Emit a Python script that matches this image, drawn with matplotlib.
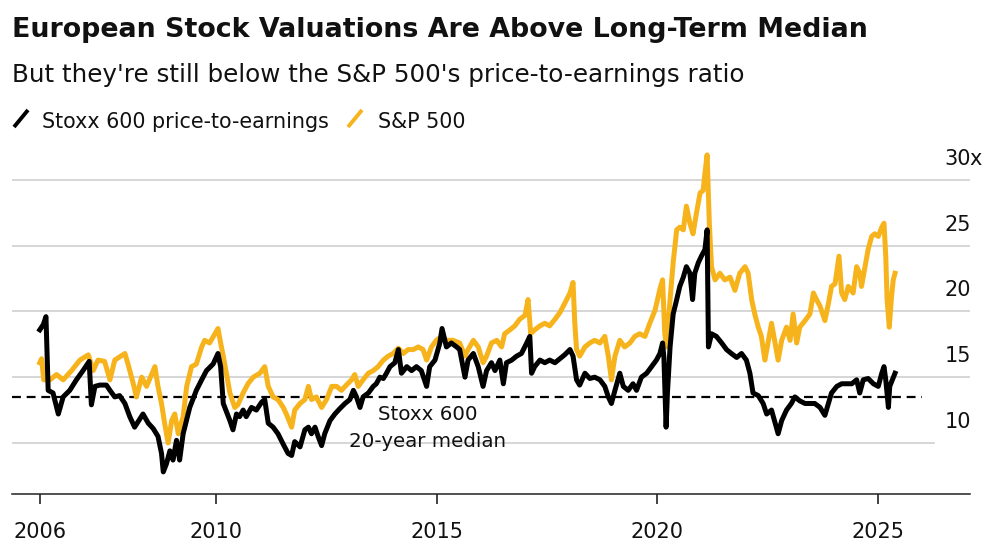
import matplotlib
matplotlib.use('Agg')
import matplotlib.pyplot as plt
from matplotlib.lines import Line2D
from matplotlib import transforms

# Stoxx 600 trailing P/E (decimal year, value)
stoxx_t = [2006.00, 2006.08, 2006.14, 2006.19, 2006.30, 2006.42, 2006.53, 2006.68, 2006.83, 2006.98,
           2007.12, 2007.17, 2007.25, 2007.36, 2007.51, 2007.59, 2007.70, 2007.81, 2007.93, 2008.04,
           2008.15, 2008.34, 2008.46, 2008.57, 2008.68, 2008.76, 2008.80, 2008.87, 2008.95, 2009.02,
           2009.10, 2009.17, 2009.25, 2009.40, 2009.55, 2009.67, 2009.78, 2009.93, 2010.04, 2010.10,
           2010.16, 2010.31, 2010.38, 2010.46, 2010.53, 2010.61, 2010.68, 2010.80, 2010.91, 2011.03,
           2011.10, 2011.18, 2011.29, 2011.40, 2011.52, 2011.63, 2011.71, 2011.78, 2011.90, 2012.01,
           2012.09, 2012.16, 2012.24, 2012.31, 2012.39, 2012.46, 2012.58, 2012.69, 2012.80, 2012.92,
           2013.03, 2013.11, 2013.18, 2013.26, 2013.33, 2013.45, 2013.56, 2013.63, 2013.71, 2013.79,
           2013.86, 2013.94, 2014.05, 2014.13, 2014.20, 2014.32, 2014.43, 2014.54, 2014.65, 2014.77,
           2014.84, 2014.96, 2015.07, 2015.12, 2015.22, 2015.33, 2015.45, 2015.52, 2015.64, 2015.71,
           2015.83, 2015.94, 2016.05, 2016.13, 2016.24, 2016.32, 2016.43, 2016.51, 2016.58, 2016.70,
           2016.81, 2016.92, 2017.04, 2017.11, 2017.15, 2017.22, 2017.34, 2017.45, 2017.56, 2017.68,
           2017.79, 2017.90, 2018.02, 2018.09, 2018.17, 2018.24, 2018.36, 2018.47, 2018.58, 2018.70,
           2018.81, 2018.89, 2018.96, 2019.04, 2019.15, 2019.23, 2019.34, 2019.45, 2019.53, 2019.64,
           2019.76, 2019.87, 2019.98, 2020.06, 2020.12, 2020.15, 2020.20, 2020.23, 2020.29, 2020.36,
           2020.44, 2020.51, 2020.59, 2020.66, 2020.74, 2020.80, 2020.85, 2020.93, 2021.00, 2021.08,
           2021.13, 2021.16, 2021.23, 2021.34, 2021.46, 2021.57, 2021.68, 2021.80, 2021.91, 2022.02,
           2022.10, 2022.17, 2022.29, 2022.40, 2022.48, 2022.59, 2022.70, 2022.74, 2022.82, 2022.93,
           2023.04, 2023.12, 2023.23, 2023.35, 2023.46, 2023.57, 2023.69, 2023.80, 2023.88, 2023.95,
           2024.07, 2024.18, 2024.29, 2024.41, 2024.52, 2024.59, 2024.67, 2024.78, 2024.90, 2025.01,
           2025.09, 2025.14, 2025.18, 2025.24, 2025.27, 2025.33, 2025.39]
stoxx_pe = [18.6, 19.0, 19.6, 14.0, 13.8, 12.2, 13.5, 14.0, 14.8, 15.5,
            16.2, 12.9, 14.3, 14.4, 14.4, 14.0, 13.5, 13.6, 13.0, 12.0,
            11.2, 12.2, 11.5, 11.1, 10.5, 9.2, 7.8, 8.4, 9.4, 8.7,
            10.2, 8.7, 10.7, 12.7, 14.0, 14.8, 15.5, 16.0, 16.8, 15.8,
            13.0, 11.7, 11.0, 12.2, 12.0, 12.5, 12.0, 12.7, 12.5, 13.1,
            13.3, 11.5, 11.2, 10.7, 9.9, 9.2, 9.05, 10.1, 9.7, 11.0,
            11.2, 10.7, 11.2, 10.5, 9.8, 10.7, 11.7, 12.2, 12.6, 13.0,
            13.3, 14.0, 13.5, 12.7, 13.5, 13.8, 14.3, 14.5, 15.0, 14.9,
            15.3, 15.8, 16.1, 17.1, 15.3, 15.8, 15.5, 15.8, 15.5, 14.3,
            15.8, 16.3, 17.6, 18.7, 17.3, 17.6, 17.3, 17.1, 15.0, 16.3,
            16.8, 15.8, 14.3, 15.5, 16.1, 15.5, 16.3, 14.5, 16.1, 16.3,
            16.6, 16.8, 17.6, 18.1, 15.3, 15.8, 16.3, 16.1, 16.3, 16.1,
            16.4, 16.7, 17.1, 16.6, 14.8, 14.4, 15.3, 14.9, 15.0, 14.8,
            14.3, 13.5, 13.0, 14.0, 15.3, 14.3, 14.0, 14.5, 14.0, 15.0,
            15.3, 15.8, 16.3, 16.8, 17.6, 16.5, 11.2, 13.8, 17.3, 19.8,
            20.9, 21.9, 22.6, 23.4, 22.9, 20.9, 22.9, 23.7, 24.2, 24.7,
            26.2, 17.3, 18.3, 18.1, 17.6, 17.1, 16.8, 16.5, 16.8, 16.3,
            15.3, 13.8, 13.6, 13.0, 12.2, 12.5, 11.2, 10.7, 11.7, 12.5,
            13.0, 13.5, 13.2, 13.0, 13.0, 13.0, 12.7, 12.1, 13.0, 13.8,
            14.3, 14.5, 14.5, 14.5, 14.8, 13.8, 14.8, 14.9, 14.5, 14.3,
            15.3, 15.8, 14.8, 12.7, 14.3, 14.8, 15.3]

# S&P 500 P/E
spx_t = [2006.00, 2006.04, 2006.09, 2006.23, 2006.38, 2006.53, 2006.72, 2006.91, 2007.10, 2007.21,
         2007.32, 2007.47, 2007.59, 2007.70, 2007.93, 2008.00, 2008.12, 2008.19, 2008.31, 2008.42,
         2008.61, 2008.68, 2008.76, 2008.83, 2008.91, 2008.99, 2009.06, 2009.14, 2009.25, 2009.33,
         2009.44, 2009.55, 2009.67, 2009.74, 2009.85, 2009.97, 2010.04, 2010.10, 2010.16, 2010.23,
         2010.31, 2010.42, 2010.49, 2010.61, 2010.72, 2010.84, 2010.99, 2011.10, 2011.18, 2011.29,
         2011.40, 2011.52, 2011.59, 2011.71, 2011.78, 2011.90, 2012.01, 2012.09, 2012.16, 2012.27,
         2012.39, 2012.50, 2012.62, 2012.73, 2012.84, 2012.95, 2013.07, 2013.14, 2013.22, 2013.33,
         2013.45, 2013.56, 2013.67, 2013.79, 2013.90, 2014.01, 2014.13, 2014.24, 2014.35, 2014.47,
         2014.58, 2014.69, 2014.77, 2014.88, 2014.99, 2015.07, 2015.22, 2015.37, 2015.52, 2015.64,
         2015.71, 2015.83, 2015.94, 2016.05, 2016.13, 2016.24, 2016.36, 2016.47, 2016.54, 2016.66,
         2016.77, 2016.88, 2017.00, 2017.07, 2017.13, 2017.22, 2017.34, 2017.45, 2017.56, 2017.68,
         2017.79, 2017.90, 2018.02, 2018.09, 2018.13, 2018.17, 2018.24, 2018.36, 2018.47, 2018.58,
         2018.70, 2018.81, 2018.89, 2018.96, 2019.04, 2019.15, 2019.26, 2019.38, 2019.49, 2019.60,
         2019.72, 2019.83, 2019.95, 2020.06, 2020.12, 2020.17, 2020.21, 2020.29, 2020.36, 2020.44,
         2020.51, 2020.59, 2020.66, 2020.74, 2020.81, 2020.89, 2020.97, 2021.04, 2021.08, 2021.13,
         2021.18, 2021.23, 2021.31, 2021.42, 2021.53, 2021.65, 2021.76, 2021.87, 2021.99, 2022.06,
         2022.14, 2022.21, 2022.29, 2022.36, 2022.44, 2022.52, 2022.59, 2022.67, 2022.74, 2022.82,
         2022.93, 2023.01, 2023.08, 2023.16, 2023.23, 2023.35, 2023.46, 2023.54, 2023.61, 2023.69,
         2023.80, 2023.88, 2023.95, 2024.03, 2024.12, 2024.18, 2024.25, 2024.33, 2024.44, 2024.52,
         2024.59, 2024.63, 2024.71, 2024.78, 2024.86, 2024.93, 2025.01, 2025.09, 2025.14, 2025.18,
         2025.21, 2025.26, 2025.31, 2025.35, 2025.39]
spx_pe = [16.1, 16.4, 14.8, 14.8, 15.2, 14.8, 15.5, 16.3, 16.7, 15.5,
          16.3, 16.2, 14.8, 16.3, 16.8, 16.0, 14.5, 13.5, 15.0, 14.3,
          15.8, 14.3, 13.0, 11.5, 10.0, 11.7, 12.2, 10.7, 12.0, 14.3,
          15.8, 16.0, 17.3, 17.8, 17.6, 18.3, 18.7, 17.6, 16.6, 15.3,
          13.8, 12.7, 12.9, 13.8, 14.5, 15.0, 15.3, 15.8, 14.3, 13.5,
          13.3, 12.7, 12.2, 11.2, 12.5, 13.0, 13.3, 14.3, 13.3, 13.5,
          12.7, 13.3, 14.3, 14.3, 14.0, 14.4, 14.8, 15.2, 14.3, 14.8,
          15.3, 15.5, 15.8, 16.3, 16.6, 16.8, 17.2, 16.8, 17.1, 17.1,
          17.3, 17.1, 16.3, 17.3, 17.8, 18.0, 17.8, 17.8, 17.6, 16.6,
          17.1, 17.8, 17.3, 16.1, 16.6, 17.6, 17.8, 17.3, 18.3, 18.6,
          18.9, 19.4, 19.7, 20.9, 18.3, 18.6, 18.9, 19.1, 18.9, 19.4,
          19.9, 20.6, 21.4, 22.2, 19.1, 17.1, 16.6, 17.3, 17.6, 17.8,
          17.6, 18.1, 16.6, 14.8, 16.6, 17.8, 17.3, 17.6, 18.1, 18.3,
          18.1, 19.1, 20.1, 21.7, 22.4, 18.3, 17.3, 20.9, 23.7, 26.2,
          26.4, 26.2, 28.0, 26.7, 25.9, 27.5, 29.0, 29.2, 30.5, 31.9,
          26.7, 23.4, 22.4, 22.9, 22.4, 22.6, 21.6, 22.9, 23.4, 22.9,
          20.9, 19.8, 18.8, 18.1, 16.3, 17.8, 19.1, 17.6, 16.3, 17.8,
          18.8, 17.8, 19.8, 17.6, 18.8, 19.3, 19.8, 21.4, 20.9, 20.4,
          19.3, 20.6, 21.9, 22.1, 24.2, 21.4, 20.9, 21.9, 21.4, 23.4,
          22.9, 21.9, 23.4, 24.7, 25.7, 25.9, 25.7, 26.4, 26.7, 24.2,
          20.9, 18.8, 21.1, 22.4, 22.9]

median_pe = 13.5
y_ticks = [10, 15, 20, 25, 30]
year_ticks = [2006, 2010, 2015, 2020, 2025]

TITLE = 'European Stock Valuations Are Above Long-Term Median'
SUBTITLE = "But they're still below the S&P 500's price-to-earnings ratio"
STOXX_LABEL = 'Stoxx 600 price-to-earnings'
SPX_LABEL = 'S&P 500'

STOXX_COLOR = '#000000'
SPX_COLOR = '#f7b31c'
GRID_COLOR = '#d0d0d0'
TEXT_COLOR = '#111111'


def draw_header(fig):
    """title, subtitle and the slash-style legend"""
    fig.text(0.012, 1 - 37 / 545, TITLE, fontsize=19.4, fontweight='bold',
             color=TEXT_COLOR, ha='left', va='baseline')
    fig.text(0.012, 1 - 82 / 545, SUBTITLE, fontsize=17.7,
             color=TEXT_COLOR, ha='left', va='baseline')

    base = 1 - 128 / 545
    for x0, color, x_text, label in [(0.014, STOXX_COLOR, 0.042, STOXX_LABEL),
                                     (0.348, SPX_COLOR, 0.378, SPX_LABEL)]:
        fig.add_artist(Line2D([x0, x0 + 0.014], [1 - 127 / 545, 1 - 110 / 545],
                              color=color, lw=2.8, solid_capstyle='butt'))
        fig.text(x_text, base, label, fontsize=14.9, color=TEXT_COLOR,
                 ha='left', va='baseline')


def make_chart():
    plt.rcParams['font.family'] = ['DejaVu Sans']
    fig = plt.figure(figsize=(10, 5.45), dpi=100)
    ax = fig.add_axes([0.012, 0.0936, 0.958, 0.6367])
    ax.set_xlim(2005.37, 2027.09)
    ax.set_ylim(6.12, 32.5)

    # gridlines - the lowest one stops short of the right edge
    for v in y_ticks:
        xmax = 0.962 if v == y_ticks[0] else 1.0
        ax.axhline(v, xmin=0, xmax=xmax, color=GRID_COLOR, lw=1.2, zorder=1)

    ax.hlines(median_pe, 2005.37, 2026.0, colors='black', lw=1.6,
              linestyles=(0, (4, 2.6)), zorder=2)

    ax.plot(spx_t, spx_pe, color=SPX_COLOR, lw=3.6, zorder=3)
    ax.plot(stoxx_t, stoxx_pe, color=STOXX_COLOR, lw=3.6, zorder=4)

    ax.text(2014.8, 11.75, 'Stoxx 600', fontsize=14.3, color=TEXT_COLOR,
            ha='center', va='baseline', zorder=5)
    ax.text(2014.8, 9.70, '20-year median', fontsize=14.3, color=TEXT_COLOR,
            ha='center', va='baseline', zorder=5)

    # right-hand value labels sit just above their gridlines
    label_tf = transforms.offset_copy(ax.get_yaxis_transform(), fig=fig,
                                      x=0, y=15, units='dots')
    for v in y_ticks:
        ax.text(1.001, v, str(v), transform=label_tf, fontsize=15,
                color=TEXT_COLOR, ha='right', va='baseline')
    ax.text(0.999, y_ticks[-1], 'x', transform=label_tf, fontsize=15,
            color=TEXT_COLOR, ha='left', va='baseline')

    ax.set_xticks(year_ticks)
    ax.set_xticklabels([str(y) for y in year_ticks])
    ax.tick_params(axis='x', length=7.2, width=1.1, pad=13, labelsize=15,
                   colors=TEXT_COLOR)
    ax.tick_params(axis='y', left=False, labelleft=False)
    for side in ['top', 'left', 'right']:
        ax.spines[side].set_visible(False)
    ax.spines['bottom'].set_linewidth(1.1)
    ax.spines['bottom'].set_color('#222222')

    draw_header(fig)
    return fig


if __name__ == "__main__":
    fig = make_chart()
    fig.savefig('out.png', dpi=100, facecolor='white')
    plt.close(fig)
